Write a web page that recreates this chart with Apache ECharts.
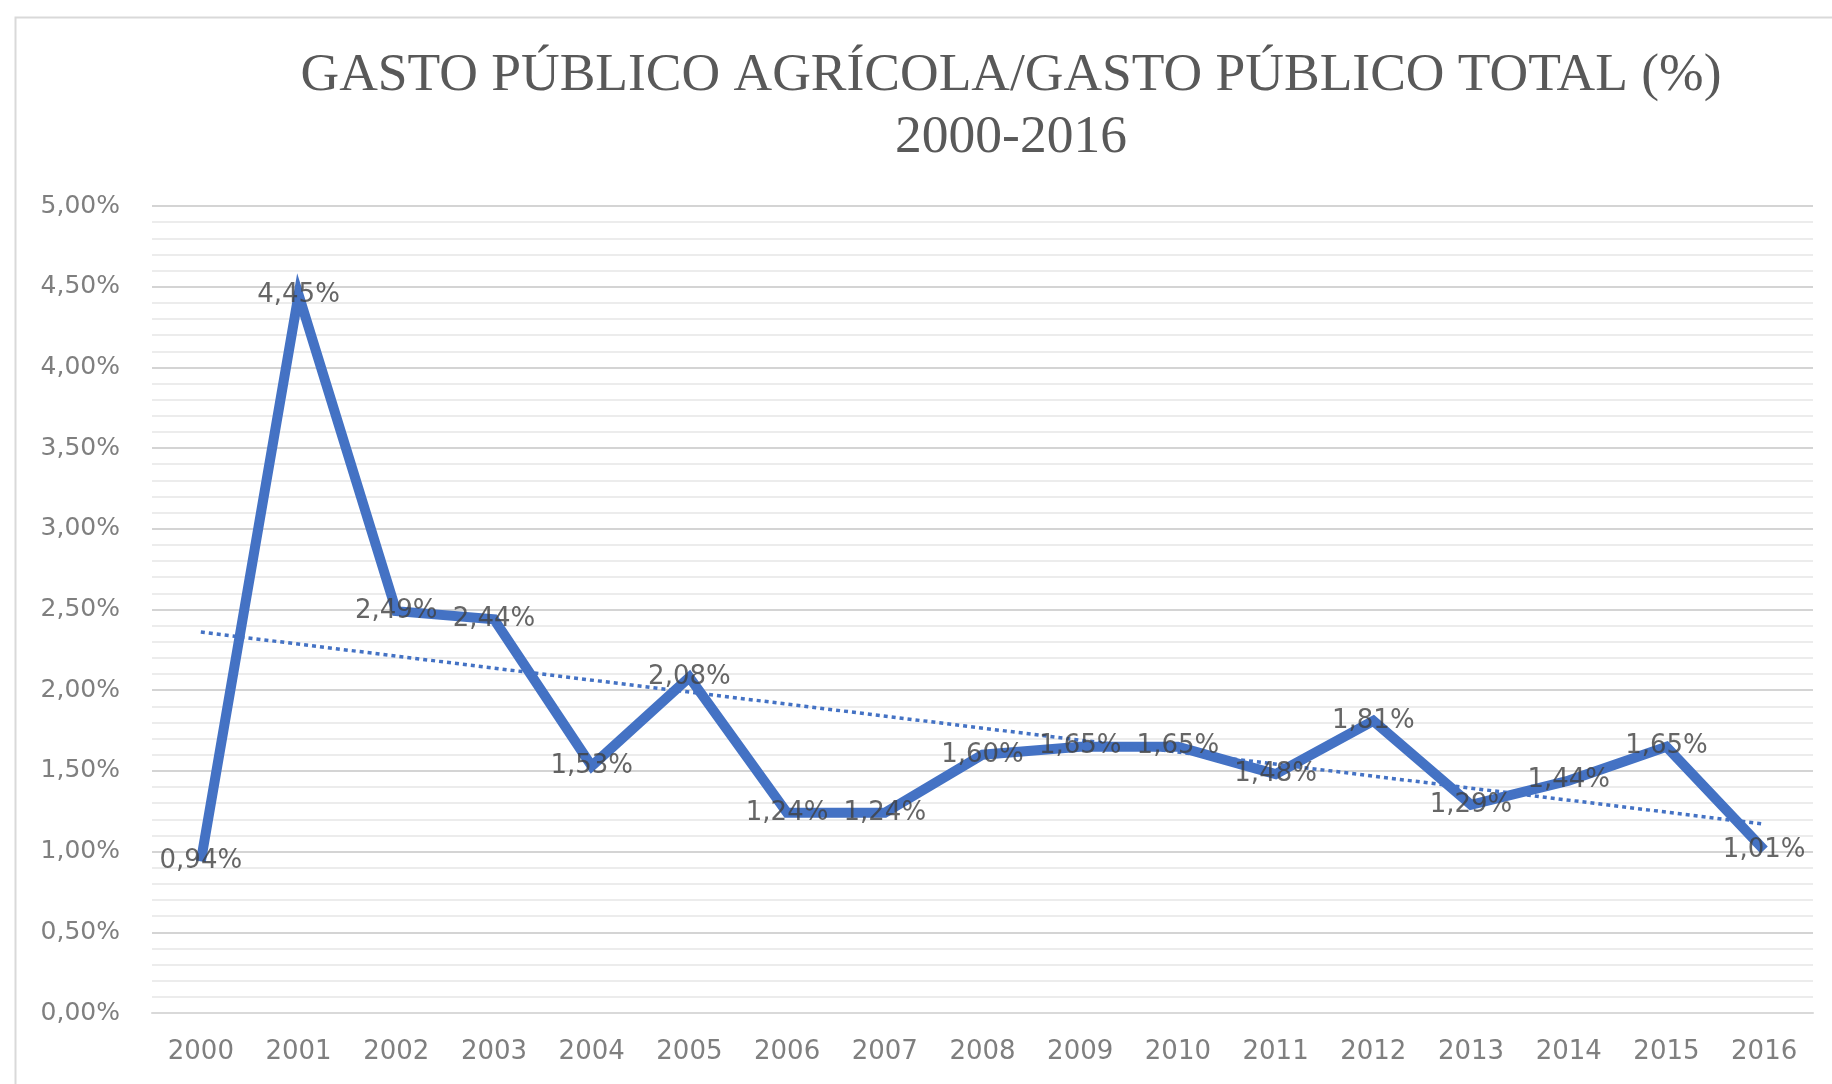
<!DOCTYPE html>
<html>
<head>
<meta charset="utf-8">
<script src="https://cdn.jsdelivr.net/npm/echarts@6/dist/echarts.min.js"></script>
<style>
html,body{margin:0;padding:0;background:#fff;}
#chart{width:1832px;height:1084px;}
</style>
</head>
<body>
<div id="chart"></div>
<script>
const titleLines = ['GASTO PÚBLICO AGRÍCOLA/GASTO PÚBLICO TOTAL (%)', '2000-2016'];
const years = ['2000','2001','2002','2003','2004','2005','2006','2007','2008','2009','2010','2011','2012','2013','2014','2015','2016'];
const shareValues = [0.94, 4.45, 2.49, 2.44, 1.53, 2.08, 1.24, 1.24, 1.60, 1.65, 1.65, 1.48, 1.81, 1.29, 1.44, 1.65, 1.01];
const trendEnds = [2.36, 1.17]; // linear trend line at 2000 and 2016
const yTicks = { min: 0, max: 5, interval: 0.5 };

const fmt = v => v.toFixed(2).replace('.', ',') + '%';

const chart = echarts.init(document.getElementById('chart'), null, { renderer: 'canvas' });
chart.setOption({
  animation: false,
  backgroundColor: '#ffffff',
  graphic: [{
    type: 'rect', left: 13, top: 15,
    shape: { width: 1900, height: 1200 },
    style: { fill: 'none', stroke: '#d9d9d9', lineWidth: 2 }
  }],
  title: {
    text: titleLines.join('\n'),
    left: 1006, top: 40, textAlign: 'center',
    textStyle: { fontFamily: 'Liberation Serif', fontSize: 53.5, fontWeight: 'normal', color: '#595959', lineHeight: 62 }
  },
  grid: { left: 152, right: 19, top: 206, bottom: 71 },
  xAxis: {
    type: 'category', data: years, boundaryGap: true,
    axisLine: { show: true, lineStyle: { color: '#d9d9d9', width: 2 } },
    axisTick: { show: false },
    axisLabel: { margin: 26, fontFamily: 'DejaVu Sans', fontSize: 26, color: '#7f7f7f' }
  },
  yAxis: {
    type: 'value', min: yTicks.min, max: yTicks.max, interval: yTicks.interval,
    axisLine: { show: false }, axisTick: { show: false },
    axisLabel: { margin: 32, fontFamily: 'DejaVu Sans', fontSize: 25, color: '#7f7f7f', formatter: fmt },
    splitLine: { show: true, lineStyle: { color: '#d4d4d4', width: 2 } },
    minorTick: { show: false, splitNumber: 5 },
    minorSplitLine: { show: true, lineStyle: { color: '#ececec', width: 2 } }
  },
  series: [{
    type: 'line', data: shareValues,
    symbol: 'none',
    lineStyle: { color: '#4472C4', width: 10, join: 'miter' },
    itemStyle: { color: '#4472C4' },
    z: 2,
    markLine: {
      silent: true, symbol: ['none', 'none'], label: { show: false },
      lineStyle: { color: '#4472C4', width: 3.5, type: [4, 4] },
      data: [[{ coord: [years[0], trendEnds[0]] }, { coord: [years[years.length - 1], trendEnds[1]] }]]
    }
  }, {
    type: 'scatter', data: shareValues,
    symbol: 'circle', symbolSize: 1,
    itemStyle: { color: 'rgba(0,0,0,0)' },
    label: {
      show: true, position: 'inside', offset: [0, 5],
      fontFamily: 'DejaVu Sans', fontSize: 26, color: '#404040',
      formatter: p => fmt(p.value)
    },
    labelLayout: { hideOverlap: false },
    z: 5, silent: true
  }]
});
</script>
</body>
</html>
